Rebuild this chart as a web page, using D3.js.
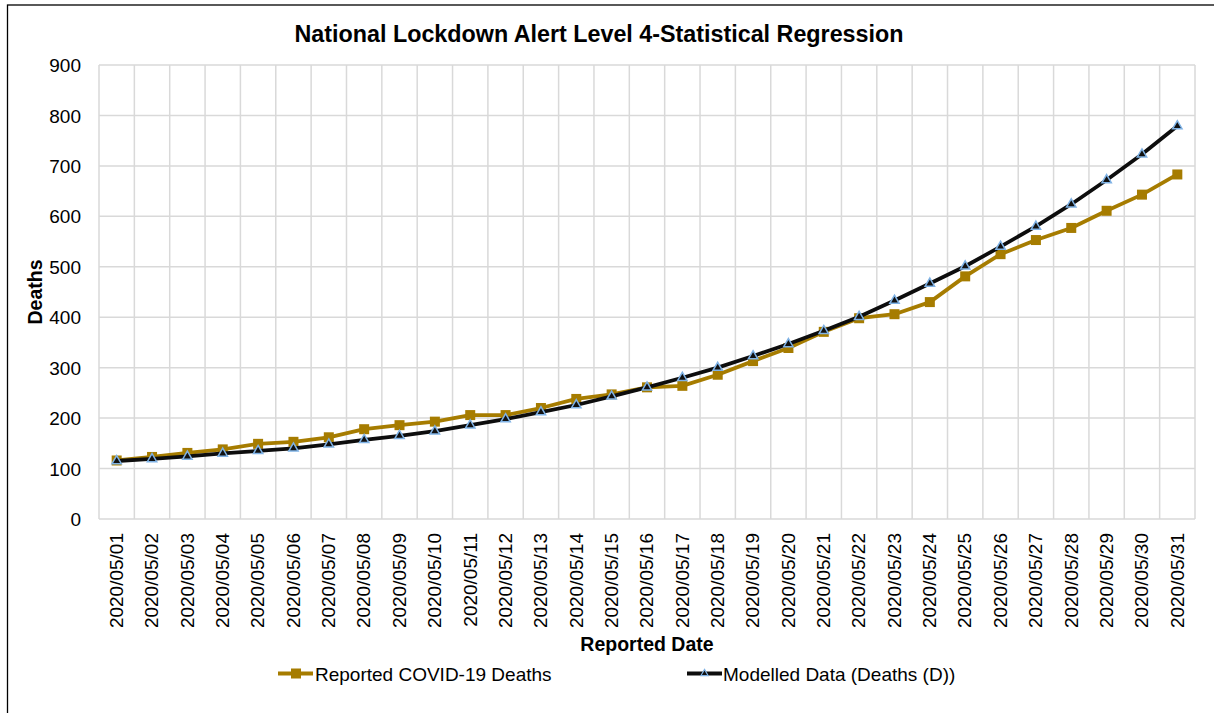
<!DOCTYPE html>
<html>
<head>
<meta charset="utf-8">
<script src="https://cdn.jsdelivr.net/npm/d3@7/dist/d3.min.js"></script>
<style>
html,body{margin:0;padding:0;background:#fff;}
svg{display:block;font-family:"Liberation Sans",Arial,sans-serif;}
</style>
</head>
<body>
<svg id="chart" width="1214" height="713"></svg>
<script>
const dates = ["2020/05/01","2020/05/02","2020/05/03","2020/05/04","2020/05/05","2020/05/06","2020/05/07","2020/05/08","2020/05/09","2020/05/10","2020/05/11","2020/05/12","2020/05/13","2020/05/14","2020/05/15","2020/05/16","2020/05/17","2020/05/18","2020/05/19","2020/05/20","2020/05/21","2020/05/22","2020/05/23","2020/05/24","2020/05/25","2020/05/26","2020/05/27","2020/05/28","2020/05/29","2020/05/30","2020/05/31"];
const reported = [116,123,131,138,149,153,162,178,186,193,206,206,220,238,247,261,264,286,313,339,371,398,406,430,481,525,553,577,611,643,683];
const modelled = [115,119,124,130,135,140,148,157,165,174,186,198,212,226,243,261,280,300,323,347,373,401,433,467,501,540,580,624,672,723,779];
const yTicks = [0,100,200,300,400,500,600,700,800,900];
const seriesNames = ["Reported COVID-19 Deaths","Modelled Data (Deaths (D))"];

const svg = d3.select("#chart");
const pLeft = 99, pRight = 1195, pTop = 65, pBottom = 519;
const FF = "Liberation Sans, Arial, sans-serif";

// outer border
svg.append("rect").attr("x",7.5).attr("y",5).attr("width",1220).attr("height",720)
  .attr("fill","none").attr("stroke","#000").attr("stroke-width",1.3);

const x = d3.scaleBand().domain(dates).range([pLeft,pRight]).padding(0);
const y = d3.scaleLinear().domain([0,900]).range([pBottom,pTop]);
const cx = d => x(d) + x.bandwidth()/2;

// horizontal gridlines
svg.append("g").selectAll("line").data(yTicks).join("line")
  .attr("x1",pLeft).attr("x2",pRight).attr("y1",d=>y(d)).attr("y2",d=>y(d))
  .attr("stroke","#d9d9d9").attr("stroke-width",1.5);
// vertical gridlines at category boundaries
const bounds = dates.map(d=>x(d)).concat([pRight]);
svg.append("g").selectAll("line").data(bounds).join("line")
  .attr("x1",d=>d).attr("x2",d=>d).attr("y1",pTop).attr("y2",pBottom)
  .attr("stroke","#d9d9d9").attr("stroke-width",1.5);

// y axis labels
const yAxis = d3.axisLeft(y).tickValues(yTicks).tickSize(0).tickPadding(0);
const yg = svg.append("g").attr("transform",`translate(${pLeft-18},0)`).call(yAxis);
yg.select(".domain").remove();
yg.selectAll("text").attr("font-size",19).attr("fill","#000").attr("font-family",FF).attr("dy","0.35em");

// x axis labels
const xAxis = d3.axisBottom(x).tickSize(0).tickPadding(0);
const xg = svg.append("g").attr("transform",`translate(0,${pBottom})`).call(xAxis);
xg.select(".domain").remove();
xg.selectAll("text")
  .attr("font-size",19).attr("fill","#000").attr("font-family",FF)
  .attr("text-anchor","end").attr("dy","0.33em")
  .attr("transform","translate(0,14) rotate(-90)").attr("x",0).attr("y",0);

// lines
const lineGen = vals => d3.line().x((d,i)=>cx(dates[i])).y(d=>y(d))(vals);
svg.append("path").attr("d",lineGen(reported)).attr("fill","none")
  .attr("stroke","#a67c00").attr("stroke-width",3.8).attr("stroke-linejoin","round");
svg.append("g").selectAll("rect").data(reported).join("rect")
  .attr("x",(d,i)=>cx(dates[i])-5).attr("y",d=>y(d)-5).attr("width",10).attr("height",10)
  .attr("fill","#a67c00");

svg.append("path").attr("d",lineGen(modelled)).attr("fill","none")
  .attr("stroke","#0d0d0d").attr("stroke-width",3.8).attr("stroke-linejoin","round");
const tri = d3.symbol().type(d3.symbolTriangle).size(38);
svg.append("g").selectAll("path").data(modelled).join("path")
  .attr("d",tri).attr("transform",(d,i)=>`translate(${cx(dates[i])},${y(d)})`)
  .attr("fill","#111").attr("stroke","#7fb2e5").attr("stroke-width",1.5);

// title
svg.append("text").attr("x",599).attr("y",42).attr("text-anchor","middle")
  .attr("font-size",23.3).attr("font-weight","bold").text("National Lockdown Alert Level 4-Statistical Regression");
// axis titles
svg.append("text").attr("x",(pLeft+pRight)/2).attr("y",651).attr("text-anchor","middle")
  .attr("font-size",19.5).attr("font-weight","bold").text("Reported Date");
svg.append("text").attr("transform",`translate(42,${(pTop+pBottom)/2}) rotate(-90)`).attr("text-anchor","middle")
  .attr("font-size",19.5).attr("font-weight","bold").text("Deaths");

// legend
const lg = svg.append("g");
lg.append("line").attr("x1",278).attr("x2",313).attr("y1",673.5).attr("y2",673.5).attr("stroke","#a67c00").attr("stroke-width",3.8);
lg.append("rect").attr("x",291).attr("y",668.5).attr("width",10).attr("height",10).attr("fill","#a67c00");
lg.append("text").attr("x",315).attr("y",681).attr("font-size",19).text(seriesNames[0]);
lg.append("line").attr("x1",687).attr("x2",722).attr("y1",673.5).attr("y2",673.5).attr("stroke","#0d0d0d").attr("stroke-width",3.8);
lg.append("path").attr("d",d3.symbol().type(d3.symbolTriangle).size(22)).attr("transform","translate(704.5,673.5)")
  .attr("fill","#111").attr("stroke","#7fb2e5").attr("stroke-width",1.2);
lg.append("text").attr("x",723).attr("y",681).attr("font-size",19).text(seriesNames[1]);
</script>
</body>
</html>
